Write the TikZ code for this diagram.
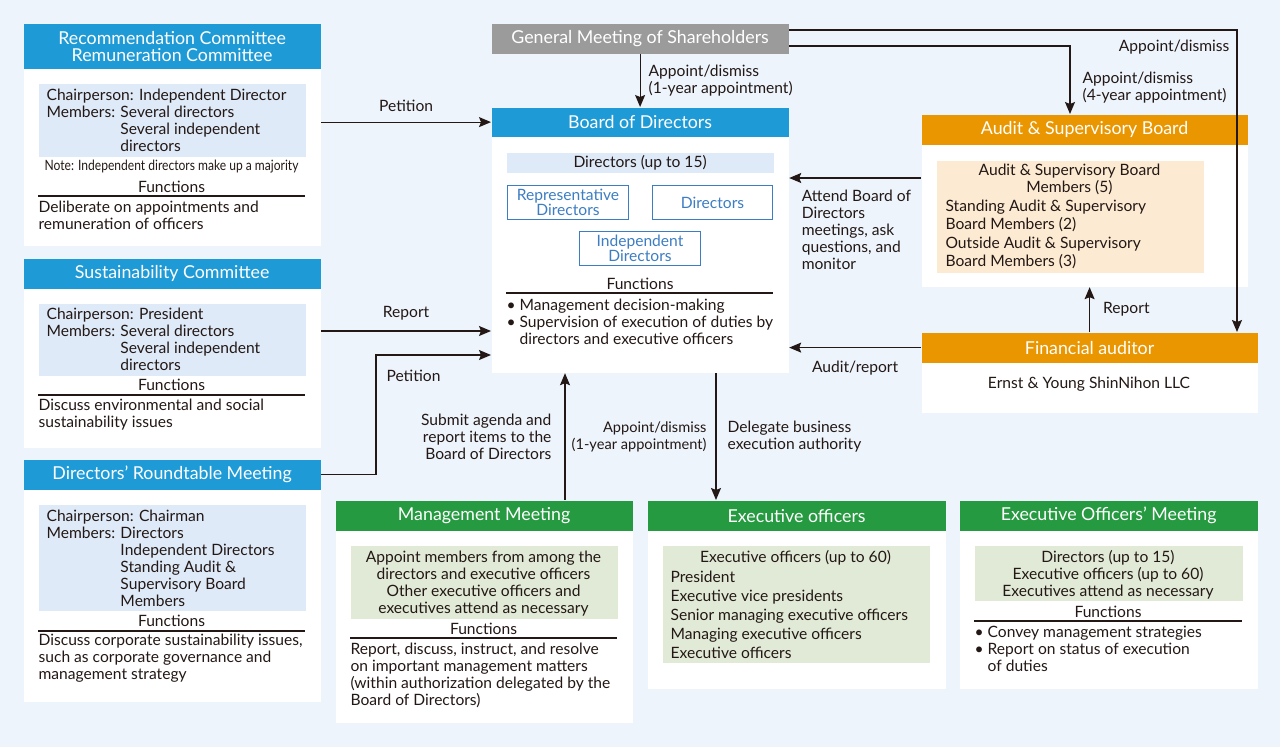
\documentclass[tikz,border=0pt]{standalone}
\usepackage{fontspec}
\usepackage{graphicx}
\setmainfont{Lato}
\usetikzlibrary{arrows.meta}

\definecolor{bgblue}{RGB}{237,244,252}
\definecolor{hblue}{RGB}{30,155,215}
\definecolor{pblue}{RGB}{222,234,248}
\definecolor{hgrey}{RGB}{155,155,155}
\definecolor{horange}{RGB}{234,150,0}
\definecolor{porange}{RGB}{252,235,210}
\definecolor{hgreen}{RGB}{38,154,64}
\definecolor{pgreen}{RGB}{225,234,214}
\definecolor{ink}{RGB}{35,24,21}
\definecolor{dblue}{RGB}{60,125,195}

\newcommand{\bodyfont}{\fontsize{15.6}{17}\selectfont}
\newcommand{\headfont}{\fontsize{17.8}{17}\selectfont}
\newcommand{\ind}{\phantom{Members: }}

\begin{document}
\begin{tikzpicture}[x=1pt,y=-1pt,>={Stealth[length=12pt,width=10pt,inset=2pt]},
                    line width=1.2pt,color=ink]
  \tikzstyle{hdr}=[text=white,font=\headfont,inner sep=0pt,anchor=north west,minimum height=30]
  \tikzstyle{body}=[fill=white,inner sep=0pt,anchor=north west]
  \tikzstyle{panel}=[inner sep=0pt,anchor=north west]
  \tikzstyle{txt}=[font=\bodyfont,inner sep=0pt]
  \tikzstyle{dirbox}=[draw=dblue,line width=1pt,text=dblue,fill=white,font=\bodyfont,
                      align=center,inner sep=0pt,anchor=north west,minimum width=121,minimum height=34]

  \fill[bgblue] (0,0) rectangle (1280,747);

  % left column
  \node[body, minimum width=297, minimum height=177] (recB) at (23,68) {};
  \node[hdr, fill=hblue, minimum width=297, minimum height=45, align=center] (recH) at (23,23)
       {Recommendation Committee\\Remuneration Committee};
  \node[panel, fill=pblue, minimum width=267, minimum height=73] (recP) at (38,83) {};
  \node[txt, anchor=west, align=left] (recM) at (46,120.5)
       {Chairperson: Independent Director\\Members: Several directors\\\ind Several independent\\\ind directors};
  \node[txt] (recN) at (171.5,167)
       {\scalebox{0.85}[1]{\fontsize{14.2}{15}\selectfont Note: Independent directors make up a majority}};
  \node[txt] (recF) at (171.5,187) {Functions};
  \draw (38,196) -- (305,196);
  \node[txt, anchor=west, align=left] (recT) at (38,215.5)
       {Deliberate on appointments and\\remuneration of officers};

  \node[body, minimum width=297, minimum height=159] (susB) at (23,288) {};
  \node[hdr, fill=hblue, minimum width=297] (susH) at (23,258) {Sustainability Committee};
  \node[panel, fill=pblue, minimum width=267, minimum height=72] (susP) at (38,303) {};
  \node[txt, anchor=west, align=left] (susM) at (46,339.5)
       {Chairperson: President\\Members: Several directors\\\ind Several independent\\\ind directors};
  \node[txt] (susF) at (171.5,385) {Functions};
  \draw (38,395) -- (305,395);
  \node[txt, anchor=west, align=left] (susT) at (38,414.5)
       {Discuss environmental and social\\sustainability issues};

  \node[body, minimum width=297, minimum height=212] (rtB) at (23,489) {};
  \node[hdr, fill=hblue, minimum width=297] (rtH) at (23,459) {Directors’ Roundtable Meeting};
  \node[panel, fill=pblue, minimum width=267, minimum height=106] (rtP) at (38,504) {};
  \node[txt, anchor=west, align=left] (rtM) at (46,558.5)
       {Chairperson: Chairman\\Members: Directors\\\ind Independent Directors\\\ind Standing Audit \&\\\ind Supervisory Board\\\ind Members};
  \node[txt] (rtF) at (171.5,621) {Functions};
  \draw (38,631) -- (305,631);
  \node[txt, anchor=west, align=left] (rtT) at (38,658.5)
       {Discuss corporate sustainability issues,\\such as corporate governance and\\management strategy};

  % centre
  \node[hdr, fill=hgrey, minimum width=297] (gms) at (491,23) {General Meeting of Shareholders};

  \node[body, minimum width=297, minimum height=236] (bodB) at (491,136) {};
  \node[hdr, fill=hblue, minimum width=297, minimum height=29] (bodH) at (491,107) {Board of Directors};
  \node[panel, fill=pblue, minimum width=267, minimum height=20, font=\bodyfont] (bodP) at (506,152)
       {Directors (up to 15)};
  \node[dirbox] (repD) at (507,185) {Representative\\[-2pt]Directors};
  \node[dirbox, minimum width=120] (dirD) at (652,185) {Directors};
  \node[dirbox] (indD) at (579,231) {Independent\\[-2pt]Directors};
  \node[txt] (bodF) at (640,284) {Functions};
  \draw (506,293) -- (773,293);
  \node[txt, anchor=west, align=left] (bodT) at (506,321.5)
       {\textbullet\ Management decision-making\\\textbullet\ Supervision of execution of duties by\\\phantom{\textbullet\ }directors and executive officers};

  % right
  \node[body, minimum width=326, minimum height=142] (audB) at (921,144) {};
  \node[hdr, fill=horange, minimum width=326] (audH) at (921,114) {Audit \& Supervisory Board};
  \node[panel, fill=porange, minimum width=267, minimum height=112] (audP) at (936,160) {};
  \node[txt, align=center] (audM) at (1069.5,179.5) {Audit \& Supervisory Board\\Members (5)};
  \node[txt, anchor=west, align=left] (audT) at (945,234.5)
       {Standing Audit \& Supervisory\\[1.5pt]Board Members (2)\\[1.5pt]Outside Audit \& Supervisory\\[1.5pt]Board Members (3)};

  \node[body, minimum width=336, minimum height=50] (finB) at (921,362) {};
  \node[hdr, fill=horange, minimum width=336] (finH) at (921,332) {Financial auditor};
  \node[txt] (finT) at (1089,384) {Ernst \& Young ShinNihon LLC};

  % bottom
  \node[body, minimum width=297, minimum height=192] (mgB) at (335,530) {};
  \node[hdr, fill=hgreen, minimum width=297] (mgH) at (335,500) {Management Meeting};
  \node[panel, fill=pgreen, minimum width=267, minimum height=73] (mgP) at (350,545) {};
  \node[txt, align=center] (mgM) at (483.5,583.5)
       {Appoint members from among the\\directors and executive officers\\Other executive officers and\\executives attend as necessary};
  \node[txt] (mgF) at (483.5,629) {Functions};
  \draw (350,638) -- (617,638);
  \node[txt, anchor=west, align=left] (mgT) at (350,675.5)
       {Report, discuss, instruct, and resolve\\on important management matters\\(within authorization delegated by the\\Board of Directors)};

  \node[body, minimum width=298, minimum height=158] (exB) at (647,530) {};
  \node[hdr, fill=hgreen, minimum width=298] (exH) at (647,500) {Executive officers};
  \node[panel, fill=pgreen, minimum width=267, minimum height=117] (exP) at (662,545) {};
  \node[txt] (exM) at (795.5,558) {Executive officers (up to 60)};
  \node[txt, anchor=west, align=left] (exT) at (670,614.5)
       {President\\[2pt]Executive vice presidents\\[2pt]Senior managing executive officers\\[2pt]Managing executive officers\\[2pt]Executive officers};

  \node[body, minimum width=298, minimum height=158] (eomB) at (959,530) {};
  \node[hdr, fill=hgreen, minimum width=298] (eomH) at (959,500) {Executive Officers’ Meeting};
  \node[panel, fill=pgreen, minimum width=268, minimum height=55] (eomP) at (974,545) {};
  \node[txt, align=center] (eomM) at (1108,575)
       {Directors (up to 15)\\Executive officers (up to 60)\\Executives attend as necessary};
  \node[txt] (eomF) at (1108,612) {Functions};
  \draw (974,621) -- (1242,621);
  \node[txt, anchor=west, align=left] (eomT) at (974,649)
       {\textbullet\ Convey management strategies\\\textbullet\ Report on status of execution\\\phantom{\textbullet\ }of duties};

  % connectors
  \coordinate (apR) at (1237,30);
  \coordinate (apA) at (1070,46);
  \coordinate (atY) at (0,178);
  \coordinate (rpY) at (0,331);
  \coordinate (ptX) at (376,355);
  \coordinate (sbX) at (565,0);
  \coordinate (dlX) at (716,0);

  \draw[->] (gms) -- (bodH)
        node[midway, right, xshift=8, align=left, txt] {Appoint/dismiss\\(1-year appointment)};
  \draw[->] (gms.east |- apR) -| (finH.north -| apR)
        node[pos=0.5, anchor=north east, xshift=-7, yshift=-9, txt] {Appoint/dismiss};
  \draw[->] (gms.east |- apA) -| (audH.north -| apA)
        node[pos=0.75, anchor=west, xshift=12, yshift=-8, align=left, txt] {Appoint/dismiss\\(4-year appointment)};
  \draw[->] (audB.west |- atY) -- (bodB.east |- atY)
        node[pos=1, anchor=north west, xshift=12, yshift=-11, align=left, txt]
        {Attend Board of\\Directors\\meetings, ask\\questions, and\\monitor};
  \draw[->] (finH.west) -- (finH.west -| bodB.east)
        node[midway, below, yshift=-13, txt] {Audit/report};
  \draw[->] (finH.north) -- (finH.north |- audB.south)
        node[midway, right, xshift=13, txt] {Report};

  \draw[->] (recB.east |- bodH.west) -- (bodH.west)
        node[midway, above, yshift=10, txt] {Petition};
  \draw[->] (susB.east |- rpY) -- (bodB.west |- rpY)
        node[midway, above, yshift=10, txt] {Report};
  \draw[->] (rtH.east) -| (ptX) -- (bodB.west |- ptX)
        node[midway, below, xshift=-20, yshift=-14, txt] {Petition};

  \draw[->] (mgH.north -| sbX) -- (bodB.south -| sbX)
        node[midway, left, xshift=-13, align=right, txt] {Submit agenda and\\report items to the\\Board of Directors};
  \draw[->] (bodB.south -| dlX) -- (exH.north -| dlX)
        node[midway, left, xshift=-9, align=right, txt, font=\fontsize{14.6}{17}\selectfont]
        {Appoint/dismiss\\(1-year appointment)}
        node[midway, right, xshift=11, align=left, txt] {Delegate business\\execution authority};
\end{tikzpicture}
\end{document}
